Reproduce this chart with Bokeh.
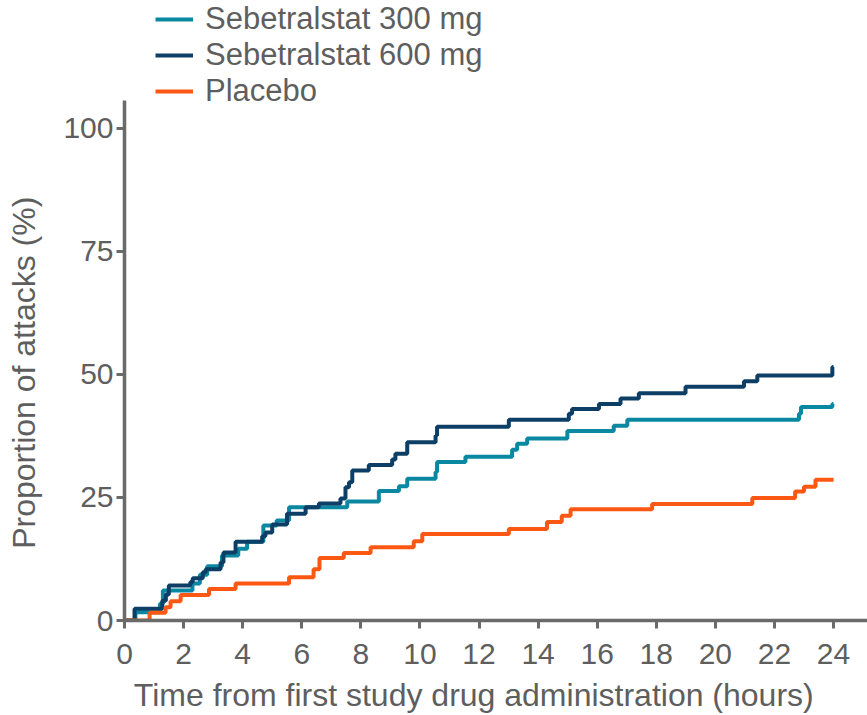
from bokeh.plotting import figure
from bokeh.models import FixedTicker, Legend, LegendItem, Range1d
from bokeh.embed import file_html
from bokeh.resources import INLINE

# ---- data ----
series_names = ["Sebetralstat 300 mg", "Sebetralstat 600 mg", "Placebo"]

t300 = [0, 0.37, 1.2, 1.3, 2.3, 2.55, 2.8, 3.3, 3.85, 4.15, 4.7, 5.15, 5.57,
        7.54, 8.61, 9.29, 9.57, 10.53, 10.58, 11.54, 13.12, 13.29, 13.63,
        14.99, 16.56, 17.02, 22.83, 22.9, 23.96, 24.0]
v300 = [0, 1.7, 3.4, 6.1, 7.5, 9.3, 11.0, 13.2, 14.6, 16.0, 19.3, 20.3, 23.0,
        24.2, 26.3, 27.3, 28.8, 30.2, 32.2, 33.3, 34.7, 35.9, 37.0,
        38.5, 39.6, 40.8, 42.0, 43.4, 44.0, 44.0]

t600 = [0, 0.34, 1.28, 1.4, 1.5, 2.23, 2.31, 2.65, 2.75, 3.25, 3.35, 3.76,
        4.66, 4.77, 5.0, 5.5, 6.13, 6.58, 7.31, 7.48, 7.6, 7.71, 8.27, 9.06,
        9.17, 9.57, 10.53, 10.58, 13.01, 15.04, 15.15, 16.06, 16.79, 17.41,
        18.99, 20.97, 21.42, 23.96, 24.0]
v600 = [0, 2.4, 4.0, 5.3, 7.1, 7.8, 8.6, 9.8, 10.4, 11.8, 13.8, 16.0,
        17.1, 17.9, 19.5, 21.7, 23.0, 23.8, 24.8, 27.1, 28.1, 30.5, 31.6, 32.7,
        33.9, 36.2, 37.6, 39.4, 40.8, 42.0, 43.0, 44.0, 45.1, 46.2,
        47.5, 48.6, 49.8, 51.5, 51.5]

tpla = [0, 0.85, 1.39, 1.56, 1.9, 2.86, 3.76, 5.57, 6.4, 6.6, 7.42, 8.33,
        9.79, 10.08, 13.01, 14.3, 14.8, 15.1, 17.86, 21.25, 22.7, 23.0, 23.39, 24.0]
vpla = [0, 1.6, 2.7, 3.9, 5.2, 6.4, 7.5, 8.8, 10.4, 12.7, 13.7, 14.9,
        16.1, 17.6, 18.6, 20.0, 21.3, 22.6, 23.7, 24.9, 26.2, 27.2, 28.6, 28.6]

x_ticks = [0, 2, 4, 6, 8, 10, 12, 14, 16, 18, 20, 22, 24]
y_ticks = [0, 25, 50, 75, 100]

colors = ["#0a88a2", "#0d3f66", "#fd5714"]
TXT = "#5e5e5e"
AX = "#6a6a6a"
FONT = "Liberation Sans"
NB = "\u00a0"

p = figure(width=867, height=715, output_backend="svg", toolbar_location=None,
           x_range=Range1d(0, 25.15), y_range=Range1d(0, 126.0),
           min_border_left=124, min_border_top=0, min_border_right=0,
           min_border_bottom=95)
p.outline_line_color = None
p.grid.visible = False

r300 = p.step(t300, v300, mode="after", line_color=colors[0], line_width=4)
r600 = p.step(t600, v600, mode="after", line_color=colors[1], line_width=4)
rpla = p.step(tpla, vpla, mode="after", line_color=colors[2], line_width=4)

for ax in (p.xaxis[0], p.yaxis[0]):
    ax.axis_line_color = AX
    ax.axis_line_width = 3.5
    ax.major_tick_line_color = AX
    ax.major_tick_line_width = 3
    ax.major_tick_in = 0
    ax.major_tick_out = 8
    ax.minor_tick_line_color = None
    ax.major_label_text_color = TXT
    ax.major_label_text_font = FONT
    ax.major_label_text_font_size = "30px"
    ax.axis_label_text_color = TXT
    ax.axis_label_text_font = FONT
    ax.axis_label_text_font_size = "32px"
    ax.axis_label_text_font_style = "normal"

p.xaxis.ticker = FixedTicker(ticks=x_ticks)
p.yaxis.ticker = FixedTicker(ticks=y_ticks)
p.yaxis.bounds = (0, 105.7)
# trailing no-break spaces keep the visible labels where the reference has them
p.xaxis.axis_label = "Time from first study drug administration (hours)" + NB * 5
p.yaxis.axis_label = "Proportion of attacks (%)" + NB * 14
p.xaxis.major_label_standoff = 15
p.yaxis.major_label_standoff = 3
p.xaxis.axis_label_standoff = 10
p.yaxis.axis_label_standoff = 18

legend = Legend(items=[LegendItem(label=series_names[0], renderers=[r300]),
                       LegendItem(label=series_names[1], renderers=[r600]),
                       LegendItem(label=series_names[2], renderers=[rpla])],
                location=(31, 511), orientation="vertical",
                padding=0, margin=0, spacing=-2,
                glyph_width=38, glyph_height=30, label_height=30,
                label_standoff=12,
                label_text_font=FONT, label_text_font_size="31px",
                label_text_line_height=1.0,
                label_text_color=TXT,
                border_line_color=None, background_fill_alpha=0)
p.add_layout(legend, "center")

open("out.html", "w").write(file_html(p, INLINE))
